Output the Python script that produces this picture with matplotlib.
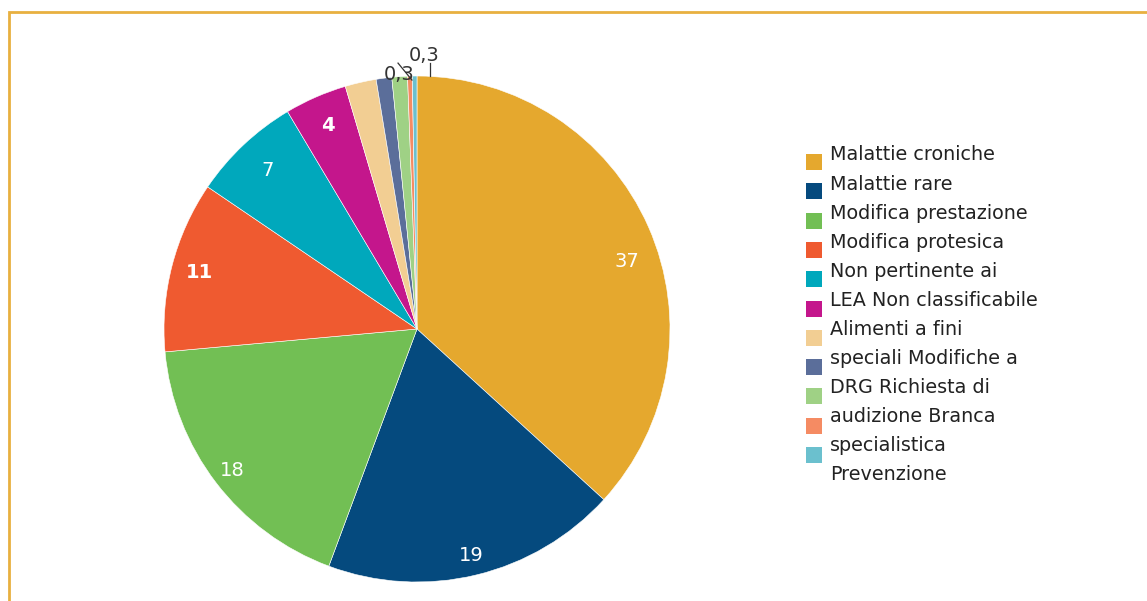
import matplotlib
matplotlib.use('Agg')
import matplotlib.pyplot as plt
from matplotlib.patches import Rectangle
import numpy as np

# slice values (percent), clockwise from 12 o'clock
values = [37, 19, 18, 11, 7, 4, 2, 1, 1, 0.3, 0.3]
value_labels = ['37', '19', '18', '11', '7', '4', '', '', '', '0,3', '0,3']
colors = ['#E5A82E', '#054A7E', '#72BF54', '#EF5A30', '#00A8BC', '#C4168C',
          '#F2CE93', '#5B6E9A', '#9FD185', '#F58B63', '#6BC0CE']
# legend text, as wrapped in the original (12 lines for 11 markers)
legend_lines = ['Malattie croniche', 'Malattie rare', 'Modifica prestazione',
                'Modifica protesica', 'Non pertinente ai', 'LEA Non classificabile',
                'Alimenti a fini', 'speciali Modifiche a', 'DRG Richiesta di',
                'audizione Branca', 'specialistica', 'Prevenzione']

W, H = 1147, 601
fig = plt.figure(figsize=(W / 100, H / 100), dpi=100)
plt.rcParams['font.family'] = ['DejaVu Sans']

# pie axes: centre (417,329), radius 253 px
cx, cy, r = 417, 329, 253
ax = fig.add_axes([(cx - r) / W, (H - cy - r) / H, 2 * r / W, 2 * r / H])
wedges, _ = ax.pie(values, colors=colors, startangle=90, counterclock=False,
                   radius=1, wedgeprops=dict(edgecolor='white', linewidth=0.4))
ax.set_xlim(-1, 1)
ax.set_ylim(-1, 1)
ax.axis('off')

# inside labels: distance from centre and small angle shift per label
lab_dist = [0.87, 0.92, 0.92, 0.89, 0.86, 0.88]
lab_shift = [-6, 0, 0, 0, 0, 0]
for w, lab, d, s in zip(wedges[:6], value_labels[:6], lab_dist, lab_shift):
    ang = np.deg2rad((w.theta1 + w.theta2) / 2 + s)
    bold = lab in ('4', '11')
    ax.text(d * np.cos(ang), d * np.sin(ang), lab, color='white',
            fontsize=14, ha='center', va='center',
            fontweight='bold' if bold else 'normal')

# small slices: labels outside with leader lines
ax.text(-0.071, 1.004, value_labels[9], color='#333333', fontsize=14,
        ha='center', va='center', clip_on=False, zorder=5)
ax.plot([-0.075, -0.02], [1.051, 0.984], color='#333333', lw=0.9,
        clip_on=False, zorder=6)
ax.text(0.028, 1.083, value_labels[10], color='#333333', fontsize=14,
        ha='center', va='center', clip_on=False, zorder=5)
ax.plot([0.051, 0.051], [1.051, 1.0], color='#333333', lw=0.9,
        clip_on=False, zorder=6)

# legend drawn line by line
for k, line in enumerate(legend_lines):
    ty = 155 + 29.05 * k
    fig.text(830 / W, 1 - ty / H, line, fontsize=13.8, color='#222222',
             ha='left', va='center')
for k, c in enumerate(colors):
    my = 162 + 29.3 * k
    fig.patches.append(Rectangle((806 / W, 1 - (my + 8) / H), 16 / W, 16 / H,
                                 transform=fig.transFigure, facecolor=c,
                                 edgecolor='none'))

# orange frame
fig.patches.append(Rectangle((9 / W, -0.05), 1.1, 1 - 12.5 / H + 0.05,
                             transform=fig.transFigure, facecolor='none',
                             edgecolor='#E8B040', linewidth=2))

fig.savefig('out.png', dpi=100)
